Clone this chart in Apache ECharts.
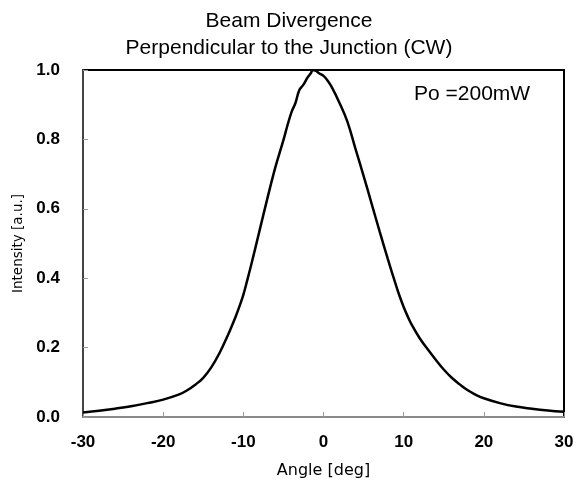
<!DOCTYPE html>
<html>
<head>
<meta charset="utf-8">
<script src="https://cdn.jsdelivr.net/npm/echarts@6/dist/echarts.min.js"></script>
<style>html,body{margin:0;padding:0;background:#fff}#c{width:582px;height:486px}</style>
</head>
<body>
<div id="c"></div>
<script>
var angles = [-30,-28,-26,-24,-22,-20,-18,-17,-16,-15,-14,-13,-12,-11,-10.5,-10,-9.5,-9,-8,-7,-6,-5,-4.5,-4,-3.5,-3,-2.5,-2,-1.6,-1.3,-1,-0.5,0,0.5,1,2,3,4,5,6,7,8,9,9.5,10,10.5,11,12,13,14,15,16,17,18,19,20,22,24,26,28,30];
var intensity = [0.013,0.018,0.024,0.031,0.040,0.050,0.065,0.077,0.093,0.113,0.143,0.183,0.232,0.287,0.318,0.352,0.395,0.44,0.535,0.63,0.72,0.798,0.84,0.878,0.905,0.943,0.958,0.978,0.99,1.0,0.998,0.99,0.983,0.97,0.952,0.905,0.85,0.772,0.695,0.615,0.535,0.457,0.383,0.348,0.317,0.29,0.266,0.227,0.195,0.165,0.137,0.113,0.094,0.077,0.064,0.054,0.040,0.030,0.024,0.019,0.015];
var xTicks = [-30,-20,-10,0,10,20,30];
var yTicks = [0,0.2,0.4,0.6,0.8,1.0];
var titleLines = ['Beam Divergence','Perpendicular to the Junction (CW)'];
var noteText = 'Po =200mW';

var chart = echarts.init(document.getElementById('c'));
chart.setOption({
  animation: false,
  title: {
    text: titleLines.join('\n'),
    left: 284, top: 3, textAlign: 'center',
    textStyle: {fontFamily: 'Liberation Sans, Arial', fontWeight: 'normal', fontSize: 21, color: '#000', lineHeight: 27}
  },
  graphic: [{
    type: 'text', left: 414, top: 84,
    style: {text: noteText, fontFamily: 'Liberation Sans, Arial', fontSize: 21, fill: '#000'}
  }],
  grid: {left: 83, right: 18, top: 70, bottom: 69, show: true, borderColor: '#000', borderWidth: 2},
  xAxis: {
    type: 'value', min: xTicks[0], max: xTicks[xTicks.length-1], interval: 10,
    name: 'Angle [deg]', nameLocation: 'middle', nameGap: 46,
    nameTextStyle: {fontFamily: 'DejaVu Sans', fontSize: 16, color: '#000'},
    axisLine: {onZero: false, lineStyle: {color: '#8a8a8a', width: 2}},
    axisTick: {inside: true, length: 5, lineStyle: {color: '#999'}},
    axisLabel: {fontFamily: 'Liberation Sans, Arial', fontWeight: 'bold', fontSize: 17, color: '#000', margin: 17},
    splitLine: {show: false}
  },
  yAxis: {
    type: 'value', min: 0, max: 1, interval: 0.2,
    name: 'Intensity [a.u.]', nameLocation: 'middle', nameGap: 55,
    nameTextStyle: {fontFamily: 'DejaVu Sans', fontSize: 13.5, color: '#000'},
    axisLine: {show: true, onZero: false, lineStyle: {color: '#444', width: 2}},
    axisTick: {show: true, inside: true, length: 5, lineStyle: {color: '#999'}},
    axisLabel: {fontFamily: 'Liberation Sans, Arial', fontWeight: 'bold', fontSize: 17, color: '#000', margin: 23,
      formatter: function(v){return v.toFixed(1);}},
    splitLine: {show: false}
  },
  series: [{
    type: 'line', smooth: 0.4, showSymbol: false,
    data: angles.map(function(a,i){return [a, intensity[i]];}),
    lineStyle: {color: '#000', width: 2.5}
  }]
});
</script>
</body>
</html>
